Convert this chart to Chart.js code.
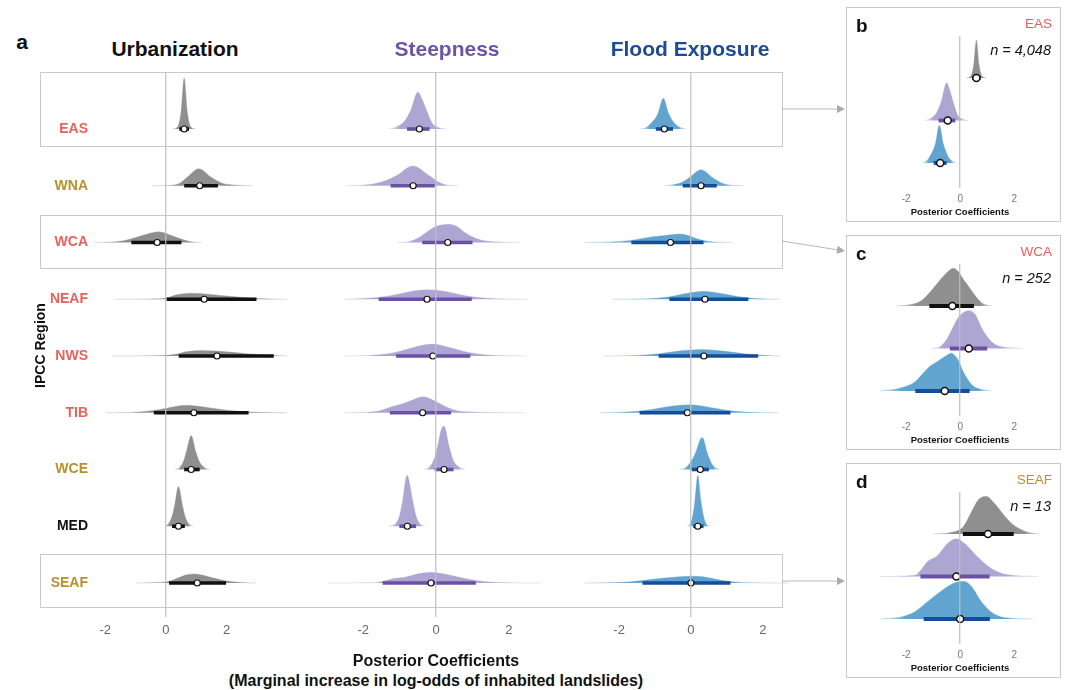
<!DOCTYPE html>
<html>
<head>
<meta charset="utf-8">
<script src="https://cdn.jsdelivr.net/npm/chart.js@4.4.1/dist/chart.umd.min.js"></script>
<style>
  body { margin: 0; background: #fff; width: 1066px; height: 690px; position: relative; overflow: hidden;
         font-family: "Liberation Sans", Arial, sans-serif; }
  canvas { position: absolute; }
  .box { position: absolute; border: 1.5px solid #c9c9c9; box-sizing: border-box; }
  .txt { position: absolute; white-space: nowrap; line-height: 1; }
  svg { position: absolute; left: 0; top: 0; }
</style>
</head>
<body>
<script>
// ---- data ----
const regions = ['EAS', 'WNA', 'WCA', 'NEAF', 'NWS', 'TIB', 'WCE', 'MED', 'SEAF'];
const regionColors = ['#e8615a', '#b8902c', '#e8615a', '#e8615a', '#e8615a', '#e8615a', '#b8902c', '#111111', '#b8902c'];
const columnTitles = ['Urbanization', 'Steepness', 'Flood Exposure'];
const tickValues = [-2, 0, 2];

// median, thick interval, peak height (in row units) and density shape [x, relative height]
const urbMedian = [0.60, 1.11, -0.29, 1.26, 1.68, 0.92, 0.83, 0.41, 1.03];
const urbInterval = [[0.44, 0.76], [0.60, 1.71], [-1.14, 0.51], [0.02, 2.98], [0.42, 3.55], [-0.40, 2.72], [0.60, 1.11], [0.20, 0.62], [0.10, 1.98]];
const urbPeak = [0.90, 0.30, 0.19, 0.106, 0.097, 0.13, 0.60, 0.70, 0.16];
const urbShape = [
  [[0.22, 0], [0.40, 0.06], [0.50, 0.35], [0.60, 1], [0.70, 0.35], [0.80, 0.06], [0.98, 0]],
  [[-0.44, 0], [0.20, 0.03], [0.45, 0.15], [0.70, 0.5], [1.08, 1], [1.49, 0.5], [1.85, 0.15], [2.30, 0.04], [2.83, 0]],
  [[-2.35, 0], [-1.75, 0.05], [-1.40, 0.16], [-1.05, 0.42], [-0.58, 0.82], [-0.25, 1], [0.23, 0.6], [0.58, 0.25], [0.82, 0.07], [1.16, 0]],
  [[-1.67, 0], [-0.50, 0.05], [0.00, 0.2], [0.35, 0.75], [0.81, 1], [1.40, 0.85], [2.20, 0.45], [3.00, 0.12], [3.99, 0]],
  [[-1.78, 0], [-0.40, 0.05], [0.30, 0.3], [0.70, 0.8], [1.17, 1], [1.80, 0.85], [2.60, 0.45], [3.40, 0.15], [4.00, 0]],
  [[-1.99, 0], [-0.90, 0.1], [-0.20, 0.45], [0.30, 0.85], [0.71, 1], [1.30, 0.75], [2.00, 0.35], [2.80, 0.1], [3.99, 0]],
  [[0.30, 0], [0.45, 0.06], [0.58, 0.25], [0.68, 0.55], [0.83, 1], [0.99, 0.5], [1.12, 0.2], [1.30, 0.04], [1.45, 0]],
  [[-0.05, 0], [0.08, 0.06], [0.20, 0.25], [0.29, 0.55], [0.41, 1], [0.55, 0.5], [0.65, 0.2], [0.78, 0.04], [0.90, 0]],
  [[-0.98, 0], [-0.27, 0.05], [0.12, 0.2], [0.43, 0.6], [0.68, 0.91], [0.96, 1], [1.26, 0.82], [1.61, 0.51], [1.95, 0.25], [2.48, 0.05], [2.95, 0]]
];

const steepMedian = [-0.46, -0.63, 0.32, -0.25, -0.09, -0.37, 0.22, -0.79, -0.14];
const steepInterval = [[-0.80, -0.18], [-1.25, -0.04], [-0.38, 1.00], [-1.58, 0.98], [-1.10, 0.94], [-1.27, 0.41], [-0.04, 0.48], [-1.01, -0.55], [-1.47, 1.09]];
const steepPeak = [0.65, 0.35, 0.32, 0.167, 0.21, 0.28, 0.76, 0.90, 0.19];
const steepShape = [
  [[-1.30, 0], [-1.10, 0.05], [-0.88, 0.2], [-0.70, 0.5], [-0.50, 1], [-0.38, 0.8], [-0.26, 0.5], [-0.10, 0.15], [0.10, 0.03], [0.30, 0]],
  [[-2.50, 0], [-1.84, 0.06], [-1.40, 0.25], [-1.10, 0.5], [-0.64, 1], [-0.18, 0.5], [0.05, 0.2], [0.26, 0.05], [0.60, 0]],
  [[-1.05, 0], [-0.74, 0.05], [-0.51, 0.23], [-0.28, 0.54], [-0.04, 0.85], [0.32, 1], [0.56, 0.9], [0.80, 0.54], [1.09, 0.23], [1.37, 0.08], [2.30, 0]],
  [[-2.55, 0], [-1.90, 0.1], [-1.30, 0.35], [-0.80, 0.75], [-0.26, 1], [0.30, 0.8], [0.80, 0.38], [1.40, 0.1], [2.54, 0]],
  [[-2.55, 0], [-1.80, 0.05], [-1.20, 0.25], [-0.70, 0.65], [-0.13, 1], [0.40, 0.7], [0.90, 0.3], [1.40, 0.08], [2.46, 0]],
  [[-2.55, 0], [-1.67, 0.08], [-1.20, 0.4], [-0.88, 0.6], [-0.60, 0.85], [-0.35, 1], [0.00, 0.7], [0.35, 0.3], [0.70, 0.08], [2.46, 0]],
  [[-0.35, 0], [-0.18, 0.06], [-0.05, 0.25], [0.03, 0.5], [0.15, 0.95], [0.22, 1], [0.37, 0.5], [0.48, 0.2], [0.66, 0.04], [0.80, 0]],
  [[-1.30, 0], [-1.10, 0.06], [-1.00, 0.22], [-0.92, 0.5], [-0.80, 1], [-0.64, 0.5], [-0.55, 0.2], [-0.45, 0.05], [-0.30, 0]],
  [[-2.96, 0], [-1.67, 0.03], [-1.44, 0.18], [-1.20, 0.4], [-0.85, 0.54], [-0.50, 0.85], [-0.15, 1], [0.20, 0.85], [0.67, 0.5], [1.14, 0.22], [1.72, 0.05], [2.88, 0]]
];

const floodMedian = [-0.74, 0.28, -0.57, 0.39, 0.36, -0.10, 0.26, 0.19, 0.00];
const floodInterval = [[-0.98, -0.50], [-0.23, 0.72], [-1.66, 0.35], [-0.60, 1.60], [-0.90, 1.87], [-1.43, 1.10], [0.02, 0.50], [0.06, 0.35], [-1.35, 1.10]];
const floodPeak = [0.54, 0.28, 0.15, 0.14, 0.115, 0.14, 0.56, 0.90, 0.12];
const floodShape = [
  [[-1.40, 0], [-1.25, 0.05], [-1.10, 0.2], [-0.92, 0.5], [-0.77, 1], [-0.62, 0.5], [-0.45, 0.18], [-0.28, 0.04], [-0.15, 0]],
  [[-0.72, 0], [-0.50, 0.06], [-0.25, 0.22], [-0.05, 0.5], [0.28, 1], [0.61, 0.5], [0.85, 0.18], [1.05, 0.05], [1.46, 0]],
  [[-2.96, 0], [-2.26, 0.07], [-1.68, 0.24], [-1.33, 0.5], [-1.16, 0.63], [-0.86, 0.77], [-0.51, 0.94], [-0.33, 1], [-0.10, 0.85], [0.15, 0.46], [0.44, 0.16], [0.80, 0.04], [1.15, 0]],
  [[-2.19, 0], [-1.20, 0.06], [-0.60, 0.3], [-0.10, 0.75], [0.35, 1], [0.80, 0.75], [1.30, 0.35], [1.80, 0.1], [2.48, 0]],
  [[-2.45, 0], [-1.50, 0.08], [-0.90, 0.35], [-0.30, 0.8], [0.30, 1], [0.90, 0.75], [1.50, 0.35], [2.00, 0.1], [2.48, 0]],
  [[-2.54, 0], [-1.80, 0.08], [-1.20, 0.35], [-0.60, 0.8], [-0.05, 1], [0.50, 0.7], [1.00, 0.3], [1.50, 0.08], [2.43, 0]],
  [[-0.30, 0], [-0.14, 0.06], [0.00, 0.25], [0.12, 0.5], [0.27, 0.97], [0.32, 1], [0.46, 0.5], [0.57, 0.2], [0.70, 0.04], [0.80, 0]],
  [[-0.10, 0], [-0.01, 0.06], [0.06, 0.25], [0.11, 0.5], [0.19, 1], [0.28, 0.5], [0.35, 0.2], [0.42, 0.05], [0.52, 0]],
  [[-2.96, 0], [-2.15, 0.06], [-1.68, 0.19], [-1.20, 0.46], [-0.74, 0.72], [-0.27, 0.94], [0.14, 1], [0.43, 0.85], [0.78, 0.46], [1.14, 0.19], [1.61, 0.04], [2.71, 0]]
];

// zoomed panels b, c, d
const sideLetters = ['b', 'c', 'd'];
const sideRegion = [0, 2, 8];
const sideCounts = ['4,048', '252', '13'];
const sidePeak = 0.89;

// ---- styling / layout ----
const variables = [
  { median: urbMedian, interval: urbInterval, peak: urbPeak, shape: urbShape, fill: '143,143,143', bar: '#111111', title: '#111111' },
  { median: steepMedian, interval: steepInterval, peak: steepPeak, shape: steepShape, fill: '173,166,211', bar: '#6a51a3', title: '#6a55a6' },
  { median: floodMedian, interval: floodInterval, peak: floodPeak, shape: floodShape, fill: '96,164,207', bar: '#164d99', title: '#1d4b92' }
];
const colGeom = [
  { left: 20, width: 290, zero: 166, unit: 31.5, center: 175 },
  { left: 300, width: 245, zero: 436.7, unit: 38, center: 447 },
  { left: 545, width: 245, zero: 692, unit: 37.5, center: 690 }
];
const FONT = '"Liberation Sans", Arial, sans-serif';

function addText(text, x, y, size, color, opts = {}) {
  const d = document.createElement('div');
  d.className = 'txt';
  d.textContent = text;
  d.style.left = x + 'px';
  d.style.top = y + 'px';
  d.style.fontSize = size + 'px';
  d.style.color = color;
  d.style.fontWeight = opts.bold ? 'bold' : 'normal';
  if (opts.italic) d.style.fontStyle = 'italic';
  const tx = opts.align === 'right' ? '-100%' : opts.align === 'left' ? '0' : '-50%';
  d.style.transform = `translate(${tx}, -50%)`;
  document.body.appendChild(d);
}

function addBox(l, t, w, h) {
  const d = document.createElement('div');
  d.className = 'box';
  Object.assign(d.style, { left: l + 'px', top: t + 'px', width: w + 'px', height: h + 'px' });
  document.body.appendChild(d);
}

function addCanvas(l, t, w, h) {
  const c = document.createElement('canvas');
  c.width = w; c.height = h;
  c.style.left = l + 'px'; c.style.top = t + 'px';
  document.body.appendChild(c);
  return c;
}

// fill that fades out in the tails
function fadeFill(rgb) {
  return function (c) {
    const chart = c.chart, ds = c.dataset;
    if (!chart.chartArea || !ds.ramp) return `rgba(${rgb},1)`;
    const sx = chart.scales.x;
    const p = ds.ramp.map(v => sx.getPixelForValue(v));
    const span = p[3] - p[0];
    const a = (0.6 * (p[1] - p[0])) / span;
    const b = 1 - (0.6 * (p[3] - p[2])) / span;
    const g = chart.ctx.createLinearGradient(p[0], 0, p[3], 0);
    g.addColorStop(0, `rgba(${rgb},0.08)`);
    g.addColorStop(Math.min(a, b), `rgba(${rgb},1)`);
    g.addColorStop(Math.max(a, b), `rgba(${rgb},1)`);
    g.addColorStop(1, `rgba(${rgb},0.08)`);
    return g;
  };
}

function ridge(v, i, base, peak, sz) {
  const shape = v.shape[i];
  return [
    {
      data: shape.map(p => ({ x: p[0], y: base + p[1] * peak })),
      fill: { value: base },
      backgroundColor: fadeFill(v.fill),
      borderColor: `rgba(${v.fill},0.3)`,
      borderWidth: 1,
      pointRadius: 0,
      cubicInterpolationMode: 'monotone',
      ramp: [shape[0][0], v.interval[i][0], v.interval[i][1], shape[shape.length - 1][0]],
      order: 3, clip: false
    },
    {
      data: [{ x: v.interval[i][0], y: base }, { x: v.interval[i][1], y: base }],
      borderColor: v.bar, borderWidth: sz.bar, borderCapStyle: 'butt',
      pointRadius: 0, fill: false, order: 2, clip: false
    },
    {
      data: [{ x: v.median[i], y: base }],
      showLine: false, pointRadius: sz.dot, pointBackgroundColor: '#ffffff',
      pointBorderColor: '#111111', pointBorderWidth: sz.dotBorder, order: 1, clip: false
    }
  ];
}

function baseOptions(xMin, xMax, yMin, yMax, axis) {
  return {
    responsive: false,
    animation: false,
    events: [],
    layout: { padding: { top: axis.padTop, left: 0, right: 0, bottom: 0 } },
    plugins: { legend: { display: false }, tooltip: { enabled: false } },
    scales: {
      x: {
        type: 'linear', min: xMin, max: xMax,
        afterBuildTicks: s => { s.ticks = tickValues.map(t => ({ value: t })); },
        afterFit: s => { s.height = axis.height; },
        border: { display: false },
        grid: {
          z: 1,
          color: c => (c.tick && c.tick.value === 0 ? 'rgba(190,190,190,0.85)' : 'rgba(0,0,0,0)'),
          lineWidth: 1.4,
          drawTicks: axis.tickLength > 0,
          tickLength: axis.tickLength
        },
        ticks: { padding: axis.tickPad, color: axis.tickColor, font: { family: FONT, size: axis.tickSize }, maxRotation: 0 }
      },
      y: { type: 'linear', min: yMin, max: yMax, display: false }
    }
  };
}

// region names + y title drawn against the first column's y scale
const regionLabels = {
  id: 'regionLabels',
  afterDraw(chart) {
    const ctx = chart.ctx, ys = chart.scales.y;
    ctx.save();
    ctx.font = `bold 14px ${FONT}`;
    ctx.textAlign = 'right';
    ctx.textBaseline = 'middle';
    regions.forEach((r, i) => {
      ctx.fillStyle = regionColors[i];
      ctx.fillText(r, 68, ys.getPixelForValue(9 - i));
    });
    ctx.translate(21, (chart.chartArea.top + chart.chartArea.bottom) / 2 + 6);
    ctx.rotate(-Math.PI / 2);
    ctx.textAlign = 'center';
    ctx.fillStyle = '#111111';
    ctx.fillText('IPCC Region', 0, 0);
    ctx.restore();
  }
};

// ---- frames and arrows ----
addBox(40, 72, 743, 75);
addBox(40, 215, 743, 54);
addBox(40, 554, 743, 54);
const sideTops = [7, 235, 463];
sideTops.forEach(t => addBox(846, t, 215, 215));

const svgNS = 'http://www.w3.org/2000/svg';
const svg = document.createElementNS(svgNS, 'svg');
svg.setAttribute('width', 1066); svg.setAttribute('height', 690);
[[782, 109, 845, 109], [782, 241, 845, 251], [782, 581, 845, 581]].forEach(([x1, y1, x2, y2]) => {
  const ln = document.createElementNS(svgNS, 'line');
  Object.entries({ x1, y1, x2: x2 - 6, y2: y2 - (y2 - y1) * 6 / (x2 - x1), stroke: '#b9b9b9', 'stroke-width': 1 })
    .forEach(([k, val]) => ln.setAttribute(k, val));
  svg.appendChild(ln);
  const ang = Math.atan2(y2 - y1, x2 - x1);
  const pts = [[0, 0], [-8, -4], [-8, 4]].map(([px, py]) =>
    `${x2 + px * Math.cos(ang) - py * Math.sin(ang)},${y2 + px * Math.sin(ang) + py * Math.cos(ang)}`).join(' ');
  const head = document.createElementNS(svgNS, 'polygon');
  head.setAttribute('points', pts);
  head.setAttribute('fill', '#aaaaaa');
  svg.appendChild(head);
});
document.body.appendChild(svg);

// ---- panel a ----
const ROW = 56.75, TOP = 72, BOTTOM = 607, FIRST = 129;
const yMaxA = 9 + (FIRST - TOP) / ROW;
const yMinA = 1 - (BOTTOM - (FIRST + 8 * ROW)) / ROW;

variables.forEach((v, ci) => {
  const g = colGeom[ci];
  const cv = addCanvas(g.left, 60, g.width, 590);
  const xMin = (g.left - g.zero) / g.unit;
  const xMax = (g.left + g.width - g.zero) / g.unit;
  let datasets = [];
  regions.forEach((r, i) => {
    datasets = datasets.concat(ridge(v, i, 9 - i, v.peak[i], { bar: 3.6, dot: 3, dotBorder: 1.2 }));
  });
  new Chart(cv, {
    type: 'line',
    data: { datasets },
    options: baseOptions(xMin, xMax, yMinA, yMaxA,
      { padTop: 12, height: 43, tickLength: 10, tickPad: 6, tickColor: '#666666', tickSize: 13 }),
    plugins: ci === 0 ? [regionLabels] : []
  });
  addText(columnTitles[ci], g.center, 48, 21, v.title, { bold: true });
});

addText('a', 22, 41, 21, '#111111', { bold: true });
addText('Posterior Coefficients', 436, 661, 16, '#111111', { bold: true });
addText('(Marginal increase in log-odds of inhabited landslides)', 436, 681, 16, '#111111', { bold: true });

// ---- panels b, c, d ----
const SROW = 42.5;
const yMaxS = 3 + (71 - 29) / SROW;
const yMinS = 1 - (181 - 156) / SROW;
const sZero = 960.5, sUnit = 28.5;

sideLetters.forEach((letter, k) => {
  const t = sideTops[k];
  const ri = sideRegion[k];
  const cv = addCanvas(848, t + 1, 212, 212);
  let datasets = [];
  variables.forEach((v, vi) => {
    datasets = datasets.concat(ridge(v, ri, 3 - vi, sidePeak, { bar: 3.8, dot: 3.5, dotBorder: 1.5 }));
  });
  new Chart(cv, {
    type: 'line',
    data: { datasets },
    options: baseOptions((848 - sZero) / sUnit, (1060 - sZero) / sUnit, yMinS, yMaxS,
      { padTop: 28, height: 32, tickLength: 0, tickPad: 5, tickColor: '#777777', tickSize: 10 })
  });
  addText(letter, 856, t + 18, 19, '#111111', { bold: true, align: 'left' });
  addText(regions[ri], 1052, t + 17, 13.5, regionColors[ri], { align: 'right' });
  addText('n = ' + sideCounts[k], 1051, t + 43, 14.5, '#111111', { italic: true, align: 'right' });
  addText('Posterior Coefficients', 960, t + 205, 9.5, '#111111', { bold: true });
});
</script>
</body>
</html>
